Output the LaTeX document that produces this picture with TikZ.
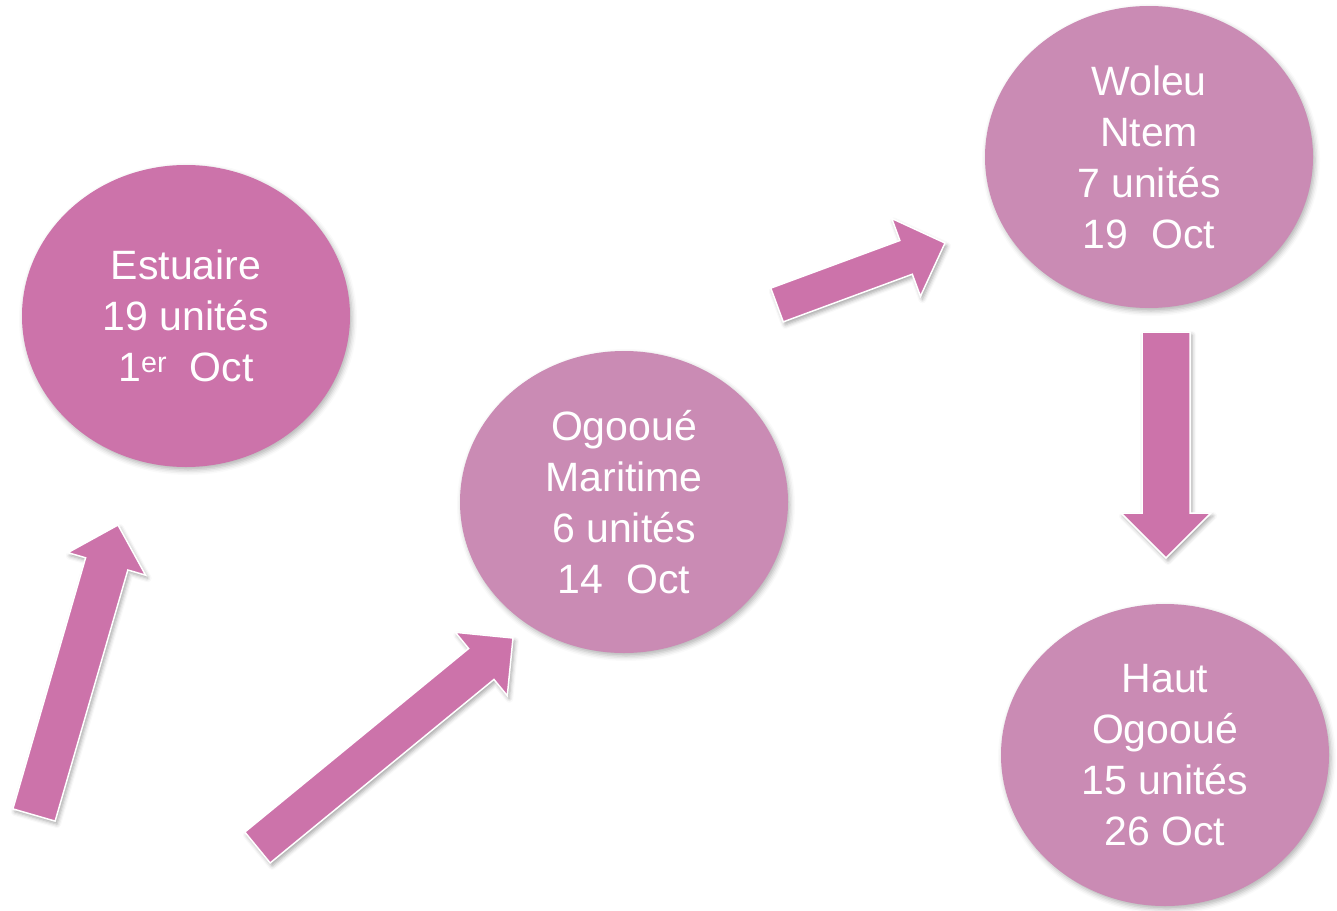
\documentclass[tikz,border=0pt]{standalone}
\usepackage{fontspec}
\setmainfont{Liberation Sans}
\usetikzlibrary{shapes.geometric,calc,shadows.blur}
\definecolor{reg_dark}{RGB}{204, 115, 170}
\definecolor{reg_light}{RGB}{202, 139, 180}
\tikzstyle{rg}=[ellipse,fill=reg_light,draw=none,inner sep=0pt,
  minimum width=328pt,minimum height=302pt,text=white,align=center,
  font=\fontsize{41}{51}\selectfont,
  blur shadow={shadow xshift=2pt,shadow yshift=-3pt,shadow blur radius=5pt,shadow opacity=30}]
\tikzstyle{rgd}=[rg,fill=reg_dark]
\tikzstyle{ar}=[fill=reg_dark,draw=white,line width=1.5pt,line join=miter,
  blur shadow={shadow xshift=2pt,shadow yshift=-3pt,shadow blur radius=4pt,shadow opacity=35}]
% block arrow: tail, tip, half shaft, half head
\newcommand{\blockarr}[4]{
  \draw [style=ar] ($(#1)!#3!90:(#2)$) -- ($($(#2)!#4!(#1)$)!#3!90:(#2)$)
    -- ($($(#2)!#4!(#1)$)!#4!90:(#2)$) -- (#2)
    -- ($($(#2)!#4!(#1)$)!#4!-90:(#2)$) -- ($($(#2)!#4!(#1)$)!#3!-90:(#2)$)
    -- ($(#1)!#3!-90:(#2)$) -- cycle;
}

\begin{document}
\begin{tikzpicture}[x=1pt, y=-1pt]
		\useasboundingbox (0, 0) rectangle (1337, 910);
		\node [style=rgd] (0) at (186, 316) {Estuaire\\19 unités\\1\textsuperscript{er}~ Oct};
		\node [style=rg] (1) at (624, 502) {Ogooué\\Maritime\\6 unités\\14~~Oct};
		\node [style=rg] (2) at (1149, 157) {Woleu\\Ntem\\7 unités\\19~~Oct};
		\node [style=rg] (3) at (1165, 755) {Haut\\Ogooué\\15 unités\\26 Oct};
		\coordinate (t1) at (34, 815);
		\coordinate (h1) at (118, 525);
		\coordinate (t2) at (257.5, 847.5);
		\coordinate (h2) at (513, 638);
		\coordinate (t3) at (777, 305);
		\coordinate (h3) at (945, 243);
		\coordinate (t4) at (1166, 332);
		\coordinate (h4) at (1166, 558);
		\blockarr{t1}{h1}{22pt}{40.5pt}
		\blockarr{t2}{h2}{20pt}{41pt}
		\blockarr{t3}{h3}{18pt}{41.5pt}
		\blockarr{t4}{h4}{24pt}{45pt}
\end{tikzpicture}
\end{document}
